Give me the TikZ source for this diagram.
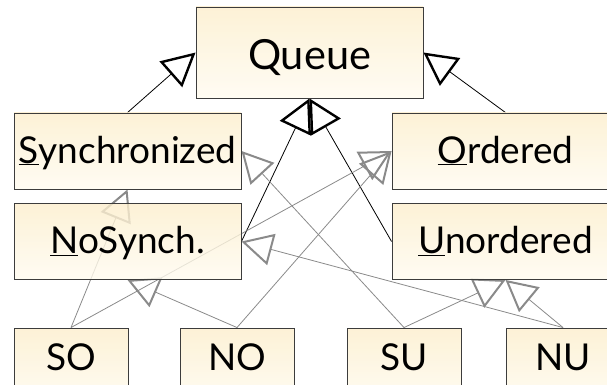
\documentclass[tikz,border=0pt]{standalone}
\usepackage{fontspec}
\setmainfont{Lato}
\usetikzlibrary{arrows.meta}
\pgfdeclarelayer{bg}
\pgfsetlayers{bg,main}
\definecolor{creamtop}{RGB}{252,238,204}
\definecolor{creambot}{RGB}{255,251,240}
\definecolor{edgegray}{RGB}{138,138,138}
\definecolor{boxline}{RGB}{60,60,60}
\begin{document}
\begin{tikzpicture}[x=1pt,y=-1pt,
  box/.style={draw=boxline, line width=0.9pt, top color=creamtop, bottom color=creambot,
    fill opacity=0.8, text opacity=1, inner sep=0pt, font=\fontsize{37}{40}\selectfont},
  widebox/.style={box, minimum width=227pt, minimum height=76pt, text height=24pt, text depth=0pt},
  smallbox/.style={box, minimum width=114pt, minimum height=76pt, text height=8pt, text depth=0pt},
  blackarr/.style={draw=black, line width=0.8pt,
    -{Triangle[open, line width=2.4pt, length=33pt, width=34pt]}},
  grayarr/.style={draw=edgegray, line width=0.8pt,
    -{Triangle[open, line width=2pt, length=31pt, width=32pt]}}]
\useasboundingbox (0,0) rectangle (607,385);
\clip (0,0) rectangle (607,385);
\node[box, minimum width=227pt, minimum height=91pt, text height=35pt, text depth=0pt,
  font=\fontsize{41.5}{44}\selectfont] (q) at (309.5,52.5) {Queue};
\node[widebox] (s) at (127.5,151) {\underline{S}ynchronized};
\node[widebox] (o) at (505.5,151) {\underline{O}rdered};
\node[widebox] (ns) at (127.5,241.5) {\underline{N}oSynch.};
\node[widebox] (u) at (505.5,241.5) {\underline{U}nordered};
\node[smallbox] (so) at (71,366) {SO};
\node[smallbox] (no) at (237,366) {NO};
\node[smallbox] (su) at (404,366) {SU};
\node[smallbox] (nu) at (563,366) {NU};
\begin{pgfonlayer}{bg}
\draw[blackarr] (s.north) -- (q.west);
\draw[blackarr] (o.north) -- (q.east);
\draw[blackarr] (ns.east) -- (q.south);
\draw[blackarr] (u.west) -- (q.south);
\draw[grayarr] (so.north) -- (s.south);
\draw[grayarr] (so.north) -- (o.west);
\draw[grayarr] (no.north) -- (ns.south);
\draw[grayarr] (no.north) -- (o.west);
\draw[grayarr] (su.north) -- (s.east);
\draw[grayarr] (su.north) -- (u.south);
\draw[grayarr] (nu.north) -- (ns.east);
\draw[grayarr] (nu.north) -- (u.south);
\end{pgfonlayer}
\end{tikzpicture}
\end{document}
